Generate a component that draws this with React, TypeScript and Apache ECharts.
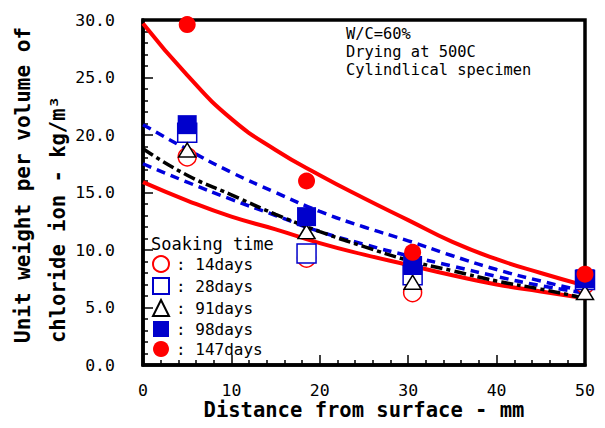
import React, { useEffect, useRef } from "react";
import * as echarts from "echarts";

const xPoints = [5, 18.5, 30.5, 50];
const d14 = [18.1, 9.3, 6.3, 7.0];
const d28 = [20.2, 9.7, 7.8, 7.4];
const d91 = [18.7, 11.6, 7.2, 6.3];
const d98 = [20.9, 12.9, 8.65, 7.5];
const d147 = [29.6, 16.0, 9.8, 7.9];

const curveX = [0, 5, 10, 15, 20, 25, 30, 35, 40, 45, 50];
const redUpper = [29.7, 25.2, 21.4, 18.7, 16.5, 14.5, 12.6, 10.7, 9.2, 8.0, 6.9];
const redLower = [15.9, 14.3, 12.9, 11.8, 10.6, 9.6, 8.7, 7.8, 7.0, 6.4, 5.8];
const blueUpper = [20.9, 18.75, 16.75, 15.0, 13.35, 12.0, 10.8, 9.5, 8.3, 7.3, 6.4];
const blueLower = [17.5, 15.9, 14.4, 13.0, 11.6, 10.5, 9.5, 8.6, 7.7, 6.9, 6.25];
const blackCurve = [18.8, 16.5, 14.8, 13.1, 11.6, 10.3, 9.1, 8.2, 7.3, 6.6, 5.8];

const xTicks = [0, 10, 20, 30, 40, 50];
const yTicks = [0, 5, 10, 15, 20, 25, 30];
const noteLines = ["W/C=60%", "Drying at 500C", "Cylindlical specimen"];

const FONT = "'DejaVu Sans Mono', monospace";
const RED = "#ff0000";
const BLUE = "#0000cc";

const pair = (xs: number[], ys: number[]) => xs.map((x, i) => [x, ys[i]]);

export default function App() {
  const ref = useRef<HTMLDivElement>(null);
  useEffect(() => {
    if (!ref.current) return;
    const chart = echarts.init(ref.current, undefined, { renderer: "svg" });
    const lineSeries = (name: string, ys: number[], color: string, type: any, width: number) => ({
      name,
      type: "line",
      data: pair(curveX, ys),
      smooth: 0.5,
      showSymbol: false,
      symbol: "none",
      z: 2,
      lineStyle: { color, width, type },
    });
    const scatter = (name: string, ys: number[], symbol: string, size: any, fill: string, border: string, bw: number) => ({
      name,
      type: "scatter",
      data: pair(xPoints, ys),
      symbol,
      symbolSize: size,
      clip: false,
      z: 5,
      itemStyle: { color: fill, borderColor: border, borderWidth: bw, opacity: 1 },
    });
    const notes = noteLines.map((t, i) => ({
      type: "text",
      x: 346,
      y: 34 + i * 18,
      style: {
        text: t,
        font: `15.4px ${FONT}`,
        lineHeight: 15,
        fill: "#000",
        textAlign: "left",
        textVerticalAlign: "middle",
      },
    }));
    chart.setOption({
      animation: false,
      backgroundColor: "#fff",
      textStyle: { fontFamily: FONT },
      grid: {
        left: 143,
        top: 20,
        right: 20,
        bottom: 63,
        show: true,
        borderColor: "#000",
        borderWidth: 3.5,
        backgroundColor: "transparent",
      },
      xAxis: {
        type: "value",
        min: xTicks[0],
        max: xTicks[xTicks.length - 1],
        interval: 10,
        axisLine: { show: true, lineStyle: { color: "#000", width: 3.5 } },
        axisTick: { show: true, inside: true, length: 10, lineStyle: { color: "#000", width: 1.5 } },
        minorTick: { show: true, splitNumber: 5, length: 5, lineStyle: { color: "#000", width: 1.5 } },
        splitLine: { show: false },
        axisLabel: { color: "#000", fontFamily: FONT, fontSize: 16.5, lineHeight: 16, margin: 17 },
      },
      yAxis: {
        type: "value",
        min: yTicks[0],
        max: yTicks[yTicks.length - 1],
        interval: 5,
        axisLine: { show: true, lineStyle: { color: "#000", width: 3.5 } },
        axisTick: { show: true, inside: true, length: 10, lineStyle: { color: "#000", width: 1.5 } },
        minorTick: { show: true, splitNumber: 5, length: 5, lineStyle: { color: "#000", width: 1.5 } },
        splitLine: { show: false },
        axisLabel: {
          color: "#000",
          fontFamily: FONT,
          fontSize: 16.5,
          margin: 28,
          formatter: (v: number) => v.toFixed(1),
        },
      },
      legend: {
        orient: "vertical",
        left: 152,
        top: 255,
        itemWidth: 16,
        itemHeight: 16,
        itemGap: 4,
        padding: 0,
        data: ["14days", "28days", "91days", "98days", "147days"],
        formatter: ": {name}",
        textStyle: { color: "#000", fontFamily: FONT, fontSize: 16, padding: [0, 0, 0, 2] },
        selectedMode: false,
      },
      graphic: [
        {
          type: "text",
          x: 23,
          y: 343,
          rotation: Math.PI / 2,
          style: {
            text: "Unit weight per volume of",
            font: `bold 21px ${FONT}`,
            fill: "#000",
            textAlign: "left",
            textVerticalAlign: "middle",
          },
        },
        {
          type: "text",
          x: 58,
          y: 343,
          rotation: Math.PI / 2,
          style: {
            text: "chloride ion - kg/m³",
            font: `bold 20.5px ${FONT}`,
            fill: "#000",
            textAlign: "left",
            textVerticalAlign: "middle",
          },
        },
        {
          type: "text",
          x: 364,
          y: 410,
          style: {
            text: "Distance from surface - mm",
            font: `bold 20.5px ${FONT}`,
            lineHeight: 20,
            fill: "#000",
            textAlign: "center",
            textVerticalAlign: "middle",
          },
        },
        ...notes,
        {
          type: "text",
          x: 151,
          y: 244,
          style: {
            text: "Soaking time",
            font: `17px ${FONT}`,
            fill: "#000",
            textAlign: "left",
            textVerticalAlign: "middle",
          },
        },
      ],
      series: [
        lineSeries("fitRedUpper", redUpper, RED, "solid", 4),
        lineSeries("fitRedLower", redLower, RED, "solid", 4),
        lineSeries("fitBlueUpper", blueUpper, "#0000dd", [9, 6], 3.5),
        lineSeries("fitBlueLower", blueLower, "#0000dd", [9, 6], 3.5),
        lineSeries("fitBlack", blackCurve, "#000", [12, 4, 4, 4], 3.5),
        scatter("14days", d14, "circle", 18, "#fff", RED, 1.5),
        scatter("28days", d28, "rect", 19, "#fff", BLUE, 1.5),
        scatter("91days", d91, "triangle", [17, 14], "#fff", "#000", 1.5),
        scatter("98days", d98, "rect", 19, BLUE, BLUE, 0),
        scatter("147days", d147, "circle", 17, RED, RED, 0),
      ],
    });
    return () => chart.dispose();
  }, []);
  return (
    <div
      ref={ref}
      style={{ position: "fixed", left: 0, top: 0, width: 605, height: 428, background: "#fff" }}
    />
  );
}
